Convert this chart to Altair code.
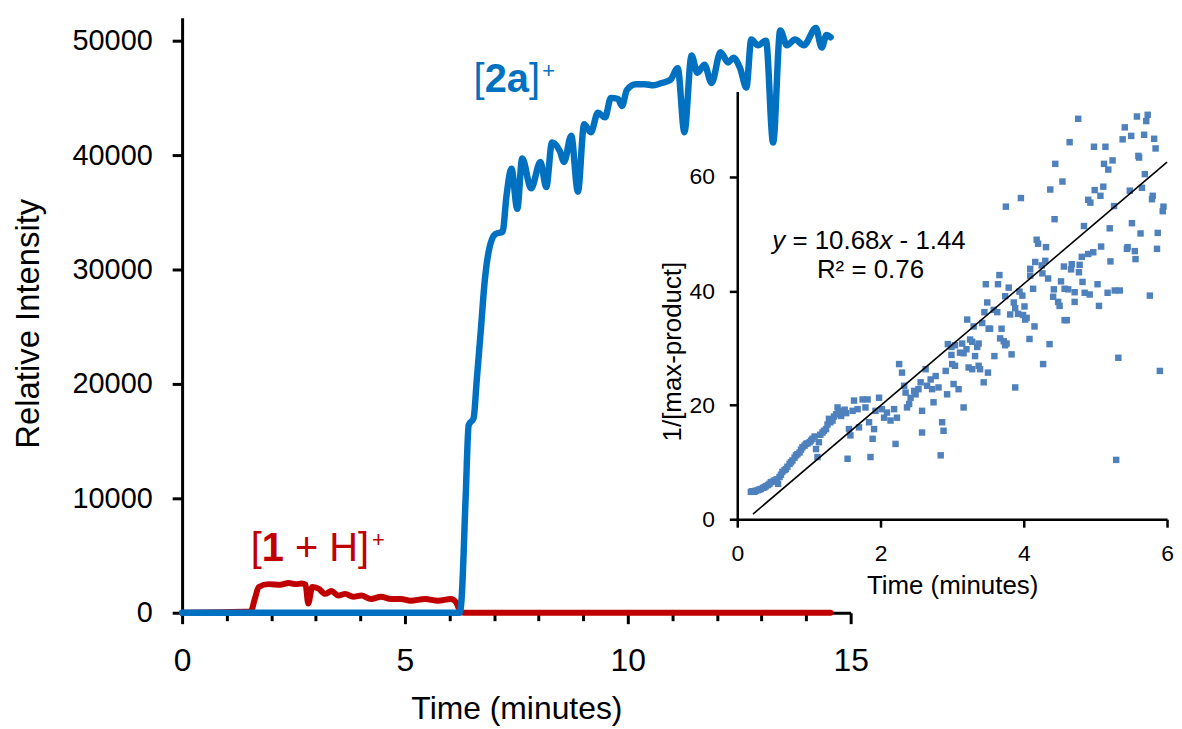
import altair as alt
import pandas as pd

FONT = "Liberation Sans"
BLUE = "#0070C0"
RED = "#C00000"
SCAT = "#4F81BD"

# ---------------- main chromatogram data ----------------
blue_time = [0.0, 6.23, 6.27, 6.36, 6.43, 6.54, 6.61, 6.70, 6.79, 6.88,
             7.03, 7.19, 7.28, 7.39, 7.52, 7.63, 7.83, 8.04, 8.17, 8.30,
             8.48, 8.57, 8.73, 8.88, 9.02, 9.17, 9.33, 9.49, 9.62, 9.78,
             9.87, 9.98, 10.18, 10.38, 10.58, 10.76, 10.96, 11.12, 11.27, 11.43,
             11.56, 11.72, 11.88, 12.08, 12.25, 12.37, 12.52, 12.66, 12.77, 12.92,
             13.10, 13.26, 13.42, 13.57, 13.75, 13.95, 14.22, 14.35, 14.46, 14.55]
blue_int = [0, 0, 1200, 9900, 16400, 17000, 20300, 24600, 29000, 31600,
            33100, 33300, 36500, 38800, 35300, 39700, 37100, 39400, 37200, 41100,
            40300, 39400, 41700, 36800, 42700, 42000, 43700, 43300, 45000, 44900,
            44300, 45700, 46200, 46200, 46100, 46300, 46600, 47600, 42000, 48700,
            47200, 47900, 46300, 49000, 48100, 48500, 47600, 45900, 50100, 49600,
            50000, 41100, 50900, 49600, 50100, 49600, 51100, 49400, 50500, 50300]

red_time = [0.0, 1.54, 1.63, 1.72, 1.94, 2.20, 2.39, 2.55, 2.68, 2.77, 2.83, 2.92,
            3.06, 3.21, 3.35, 3.50, 3.66, 3.84, 4.02, 4.24, 4.46, 4.69,
            4.91, 5.13, 5.45, 5.74, 6.03, 6.14, 6.25, 6.32, 14.55]
red_int = [0, 100, 1200, 2250, 2500, 2450, 2600, 2500, 2550, 2450, 800, 2250,
           2100, 1650, 1900, 1500, 1650, 1400, 1500, 1200, 1400, 1200,
           1200, 1050, 1200, 1050, 1200, 950, 100, 0, 0]

main_x_ticks = list(range(16))
main_y_ticks = [0, 10000, 20000, 30000, 40000, 50000]

# label anchors (data units of the main chart)
label_2a_pos = [6.54, 45480]
label_1h_pos = [1.54, 4514]

# ---------------- inset data ----------------
inset_time = [
    0.19, 0.21, 0.24, 0.26, 0.29, 0.31, 0.33, 0.36, 0.38, 0.40,
    0.43, 0.45, 0.47, 0.50, 0.52, 0.55, 0.57, 0.59, 0.61, 0.63,
    0.66, 0.68, 0.70, 0.73, 0.75, 0.77, 0.80, 0.82, 0.84, 0.87,
    0.89, 0.91, 0.94, 0.96, 0.98, 1.01, 1.03, 1.05, 1.08, 1.10,
    1.12, 1.14, 1.16, 1.19, 1.21, 1.24, 1.26, 1.28, 1.30, 1.33,
    1.35, 1.38, 1.40, 1.42, 1.45, 1.47, 1.50, 1.52, 1.54, 1.56,
    1.58, 1.61, 1.63, 1.68, 1.70, 1.75, 1.79, 1.82, 1.84, 1.86,
    1.89, 1.91, 1.93, 1.98, 2.02, 2.05, 2.09, 2.14, 2.19, 2.21,
    2.23, 2.26, 2.30, 2.33, 2.35, 2.37, 2.40, 2.42, 2.47, 2.49,
    2.53, 2.56, 2.58, 2.58, 2.63, 2.65, 2.70, 2.72, 2.74, 2.77,
    2.81, 2.84, 2.86, 2.88, 2.91, 2.93, 2.94, 2.99, 2.99, 3.00,
    3.02, 3.04, 3.04, 3.09, 3.11, 3.14, 3.16, 3.16, 3.20, 3.21,
    3.23, 3.25, 3.28, 3.28, 3.30, 3.32, 3.35, 3.37, 3.37, 3.39,
    3.42, 3.44, 3.45, 3.47, 3.49, 3.50, 3.51, 3.53, 3.58, 3.59,
    3.63, 3.64, 3.66, 3.67, 3.69, 3.72, 3.74, 3.74, 3.75, 3.76,
    3.79, 3.81, 3.83, 3.86, 3.88, 3.88, 3.92, 3.94, 3.96, 3.98,
    3.99, 4.01, 4.02, 4.04, 4.08, 4.09, 4.09, 4.13, 4.15, 4.16,
    4.18, 4.20, 4.25, 4.26, 4.27, 4.30, 4.31, 4.34, 4.36, 4.37,
    4.41, 4.42, 4.43, 4.44, 4.48, 4.50, 4.52, 4.54, 4.56, 4.57,
    4.57, 4.60, 4.62, 4.64, 4.66, 4.67, 4.71, 4.71, 4.76, 4.77,
    4.78, 4.81, 4.82, 4.84, 4.85, 4.90, 4.90, 4.92, 4.93, 4.97,
    4.98, 4.99, 5.03, 5.05, 5.07, 5.08, 5.11, 5.12, 5.14, 5.17,
    5.18, 5.20, 5.21, 5.24, 5.26, 5.27, 5.29, 5.32, 5.34, 5.38,
    5.41, 5.44, 5.45, 5.48, 5.50, 5.51, 5.55, 5.56, 5.58, 5.60,
    5.61, 5.63, 5.65, 5.68, 5.69, 5.71, 5.73, 5.76, 5.79, 5.80,
    5.82, 5.84, 5.86, 5.87, 5.90, 5.94, 5.95]
inset_value = [
    4.8, 4.9, 4.8, 5.0, 5.1, 5.2, 5.3, 5.5, 5.6, 5.8,
    6.0, 6.2, 6.5, 6.6, 6.8, 7.0, 6.2, 7.4, 7.8, 8.3,
    8.6, 8.8, 9.2, 9.7, 10.0, 10.3, 10.8, 11.2, 11.4, 11.7,
    12.2, 12.6, 12.9, 13.2, 13.3, 13.5, 13.8, 14.1, 14.5, 12.3,
    10.9, 13.5, 14.8, 15.2, 15.5, 15.8, 16.6, 17.6, 17.0, 17.3,
    18.0, 18.4, 19.6, 18.8, 18.1, 19.0, 19.2, 18.6, 10.6, 15.8,
    14.7, 19.0, 20.8, 19.3, 16.1, 21.0, 19.6, 21.0, 17.0, 10.9,
    14.1, 15.8, 19.0, 21.3, 19.3, 17.8, 18.7, 17.3, 19.3, 13.2,
    17.8, 27.2, 25.7, 23.4, 22.2, 19.6, 20.2, 21.3, 22.5, 21.9,
    22.8, 24.0, 19.0, 15.2, 26.3, 23.4, 24.5, 22.8, 20.5, 25.1,
    23.1, 11.2, 17.0, 15.5, 26.0, 21.9, 30.7, 30.2, 28.8, 27.2,
    23.7, 26.9, 30.5, 22.8, 29.2, 30.8, 29.1, 19.6, 29.8, 35.0,
    26.6, 31.5, 26.3, 31.1, 33.8, 28.6, 30.2, 26.9, 30.8, 26.3,
    34.4, 24.0, 36.3, 41.2, 38.0, 25.7, 33.4, 33.4, 36.7, 28.6,
    36.3, 41.2, 42.8, 31.7, 33.4, 31.2, 30.5, 39.1, 54.8, 30.8,
    40.6, 35.9, 28.9, 38.0, 37.0, 23.1, 36.0, 39.9, 56.3, 39.2,
    35.8, 37.3, 35.0, 35.3, 31.6, 43.9, 42.7, 40.4, 33.8, 45.1,
    49.0, 48.3, 44.5, 43.1, 27.2, 45.3, 47.7, 42.2, 30.7, 57.8,
    39.0, 40.3, 52.6, 62.3, 38.1, 37.4, 41.7, 59.2, 44.3, 40.4,
    34.9, 34.9, 40.3, 66.1, 43.8, 44.7, 39.8, 38.1, 70.2, 43.3,
    44.6, 46.0, 41.6, 51.4, 39.7, 46.5, 56.0, 39.4, 55.5, 46.8,
    65.3, 57.7, 41.2, 37.4, 56.7, 47.8, 58.3, 62.3, 65.3, 39.7,
    61.3, 51.0, 45.2, 62.9, 54.9, 40.1, 10.4, 28.3, 40.1, 66.6,
    68.7, 47.4, 47.7, 57.6, 67.2, 51.9, 47.0, 45.6, 70.6, 63.7,
    63.4, 50.1, 58.1, 67.4, 60.5, 69.8, 70.9, 39.2, 56.1, 56.7,
    66.7, 65.0, 47.4, 50.2, 26.0, 54.0, 54.8]

trend_time = [0.22, 6.0]
trend_value = [0.91, 62.6]
inset_x_ticks = [0, 2, 4, 6]
inset_y_ticks = [0, 20, 40, 60]
eq_pos = [0.49, 47.4]
r2_pos = [1.86, 42.3]

# ---------------- frames ----------------
blue_df = pd.DataFrame({"t": blue_time, "v": blue_int})
red_df = pd.DataFrame({"t": red_time, "v": red_int})
lab2a_df = pd.DataFrame({"t": [label_2a_pos[0]], "v": [label_2a_pos[1]]})
lab1h_df = pd.DataFrame({"t": [label_1h_pos[0]], "v": [label_1h_pos[1]]})
scat_df = pd.DataFrame({"ti": inset_time, "vi": inset_value})
trend_df = pd.DataFrame({"ti": trend_time, "vi": trend_value})
eq_df = pd.DataFrame({"ti": [eq_pos[0]], "vi": [eq_pos[1]]})
r2_df = pd.DataFrame({"ti": [r2_pos[0]], "vi": [r2_pos[1]]})

# ---------------- main encodings ----------------
X_MAIN = alt.X(
    "t:Q",
    scale=alt.Scale(domain=[0, 15], nice=False, zero=False),
    axis=alt.Axis(
        values=main_x_ticks,
        labelExpr="datum.value % 5 === 0 ? datum.label : ''",
        tickSize={"condition": {"test": "datum.value % 5 === 0", "value": 11}, "value": 8},
        tickWidth=3, domainWidth=3,
        labelFontSize=32, labelPadding=22, labelFlush=False, labelOverlap=False,
        title="Time (minutes)", titleFontSize=32, titlePadding=17,
    ),
)
Y_MAIN = alt.Y(
    "v:Q",
    scale=alt.Scale(domain=[0, 52000], nice=False),
    axis=alt.Axis(
        values=main_y_ticks, format="d",
        tickSize=10, tickWidth=3, domainWidth=3,
        labelFontSize=29, labelPadding=20, labelOverlap=False,
        title="Relative Intensity", titleFontSize=33, titlePadding=27, titleY=307,
    ),
)

red_line = alt.Chart(red_df).mark_line(
    color=RED, strokeWidth=6, strokeJoin="round", strokeCap="round", interpolate="monotone"
).encode(x=X_MAIN, y=Y_MAIN)
blue_line = alt.Chart(blue_df).mark_line(
    color=BLUE, strokeWidth=6.5, strokeJoin="round", strokeCap="round", interpolate="monotone"
).encode(x=X_MAIN, y=Y_MAIN)


def part(df, text, dx, size, color, enc_x, enc_y, weight="normal", style="normal", dy=0, align="left"):
    return alt.Chart(df).mark_text(
        text=text, dx=dx, dy=dy, fontSize=size, font=FONT, fontWeight=weight,
        fontStyle=style, color=color, align=align, baseline="alphabetic",
    ).encode(x=enc_x, y=enc_y)


F = 40
lab2a = [
    part(lab2a_df, "[", 0, F, BLUE, X_MAIN, Y_MAIN),
    part(lab2a_df, "2a", 11.1, F, BLUE, X_MAIN, Y_MAIN, weight="bold"),
    part(lab2a_df, "]", 55.6, F, BLUE, X_MAIN, Y_MAIN),
    part(lab2a_df, "+", 69, 22, BLUE, X_MAIN, Y_MAIN, dy=-14),
]
lab1h = [
    part(lab1h_df, "[", 0, F, RED, X_MAIN, Y_MAIN),
    part(lab1h_df, "1", 11.1, F, RED, X_MAIN, Y_MAIN, weight="bold"),
    part(lab1h_df, "+ H]", 44.5, F, RED, X_MAIN, Y_MAIN),
    part(lab1h_df, "+", 122, 22, RED, X_MAIN, Y_MAIN, dy=-14),
]

main = alt.layer(red_line, blue_line, *lab2a, *lab1h)

# ---------------- inset encodings ----------------
X_IN = alt.X(
    "ti:Q",
    scale=alt.Scale(domain=[0, 6], range=[558, 990], nice=False, zero=False),
    axis=alt.Axis(
        orient="bottom", offset=-94, values=inset_x_ticks,
        tickSize=8, tickWidth=2.5, domainWidth=2.5,
        labelFontSize=23, labelPadding=15, labelFlush=False, labelOverlap=False,
        title="Time (minutes)", titleFontSize=26, titlePadding=8,
    ),
)
Y_IN = alt.Y(
    "vi:Q",
    scale=alt.Scale(domain=[0, 75], range=[504, 74], nice=False),
    axis=alt.Axis(
        orient="left", offset=-558, values=inset_y_ticks,
        tickSize=8, tickWidth=2.5, domainWidth=2.5,
        labelFontSize=23, labelPadding=15, labelOverlap=False,
        title="1/[max-product]", titleFontSize=26, titlePadding=3, titleY=335,
    ),
)

scatter = alt.Chart(scat_df).mark_point(
    shape="square", filled=True, size=42, color=SCAT, opacity=1
).encode(x=X_IN, y=Y_IN)
trend = alt.Chart(trend_df).mark_line(color="black", strokeWidth=1.6).encode(x=X_IN, y=Y_IN)

E = 26
eq = [
    part(eq_df, "y", 0, E, "black", X_IN, Y_IN, style="italic"),
    part(eq_df, "= 10.68", 20.2, E, "black", X_IN, Y_IN),
    part(eq_df, "x", 107.7, E, "black", X_IN, Y_IN, style="italic"),
    part(eq_df, "- 1.44", 127.9, E, "black", X_IN, Y_IN),
    part(r2_df, "R\u00b2 = 0.76", 0, E, "black", X_IN, Y_IN, align="center"),
]

inset = alt.layer(scatter, trend, *eq)

chart = (
    alt.layer(main, inset)
    .resolve_scale(x="independent", y="independent")
    .properties(
        width=672, height=598,
        padding={"left": 175, "top": 8, "right": 325, "bottom": 113},
        autosize=alt.AutoSizeParams(type="none"),
        background="white",
    )
    .configure_view(stroke=None)
    .configure_axis(
        grid=False, labelFont=FONT, titleFont=FONT, labelColor="black",
        titleColor="black", domainColor="black", tickColor="black",
        titleFontWeight="normal",
    )
)

chart.save("out.html", embed_options={"renderer": "svg", "actions": False})
